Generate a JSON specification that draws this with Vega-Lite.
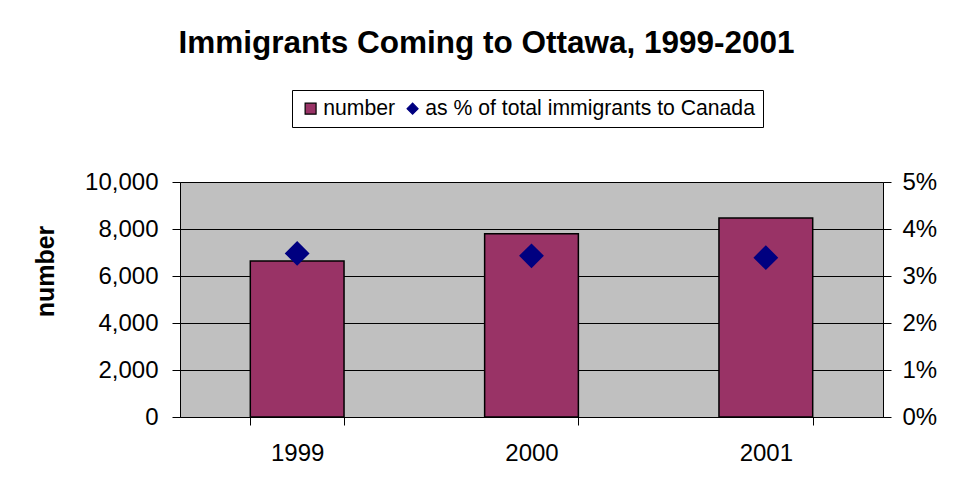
{
  "$schema": "https://vega.github.io/schema/vega-lite/v6.json",
  "autosize": {"type": "none"},
  "width": 703,
  "height": 235,
  "padding": {"left": 180, "top": 182, "right": 72, "bottom": 83},
  "background": "white",
  "title": {
    "text": "Immigrants Coming to Ottawa, 1999-2001",
    "font": "Liberation Sans",
    "fontSize": 31.5,
    "fontWeight": "bold",
    "color": "black",
    "anchor": "middle",
    "frame": "group",
    "dx": -45,
    "baseline": "alphabetic",
    "offset": 5
  },
  "data": {
    "values": [
      {"year": "1999", "series": "number", "value": 6640},
      {"year": "2000", "series": "number", "value": 7800},
      {"year": "2001", "series": "number", "value": 8470},
      {"year": "1999", "series": "as % of total immigrants to Canada", "value": 0.0348},
      {"year": "2000", "series": "as % of total immigrants to Canada", "value": 0.0343},
      {"year": "2001", "series": "as % of total immigrants to Canada", "value": 0.0339}
    ]
  },
  "encoding": {
    "x": {
      "field": "year",
      "type": "nominal",
      "scale": {"paddingInner": 0.6, "paddingOuter": 0.3},
      "axis": {
        "title": null,
        "labelAngle": 0,
        "tickBand": "extent",
        "tickSize": 8,
        "labelPadding": 16,
        "grid": false
      }
    }
  },
  "layer": [
    {
      "transform": [{"filter": "datum.series === 'number'"}],
      "mark": {"type": "bar", "strokeWidth": 1.5},
      "encoding": {
        "y": {
          "field": "value",
          "type": "quantitative",
          "scale": {"domain": [0, 10000], "nice": false},
          "axis": {
            "title": "number",
            "titleFont": "Liberation Sans",
            "titleFontSize": 25,
            "titleFontWeight": "bold",
            "titlePadding": 26,
            "titleColor": "black",
            "titleY": 89,
            "values": [0, 2000, 4000, 6000, 8000, 10000],
            "format": ",.0f",
            "grid": true,
            "labelPadding": 14
          }
        },
        "color": {
          "field": "series",
          "type": "nominal",
          "scale": {"domain": ["number", "as % of total immigrants to Canada"], "range": ["#993366", "#000080"]},
          "legend": {"title": null, "orient": "none", "direction": "horizontal", "legendX": 112, "legendY": -92}
        },
        "stroke": {
          "field": "series",
          "type": "nominal",
          "scale": {"domain": ["number", "as % of total immigrants to Canada"], "range": ["black", "#000080"]},
          "legend": null
        }
      }
    },
    {
      "transform": [{"filter": "datum.series !== 'number'"}],
      "mark": {"type": "point", "filled": true, "size": 484, "opacity": 1},
      "encoding": {
        "y": {
          "field": "value",
          "type": "quantitative",
          "scale": {"domain": [0, 0.05], "nice": false},
          "axis": {
            "orient": "right",
            "title": null,
            "values": [0, 0.01, 0.02, 0.03, 0.04, 0.05],
            "format": ".0%",
            "grid": false,
            "labelPadding": 11
          }
        },
        "color": {
          "field": "series",
          "type": "nominal",
          "scale": {"domain": ["number", "as % of total immigrants to Canada"], "range": ["#993366", "#000080"]},
          "legend": {"title": null, "orient": "none", "direction": "horizontal", "legendX": 112, "legendY": -92}
        },
        "shape": {
          "field": "series",
          "type": "nominal",
          "scale": {"domain": ["number", "as % of total immigrants to Canada"], "range": ["square", "diamond"]},
          "legend": {"title": null, "orient": "none", "direction": "horizontal", "legendX": 112, "legendY": -92}
        },
        "stroke": {
          "field": "series",
          "type": "nominal",
          "scale": {"domain": ["number", "as % of total immigrants to Canada"], "range": ["black", "#000080"]},
          "legend": null
        }
      }
    }
  ],
  "resolve": {"scale": {"y": "independent"}},
  "config": {
    "view": {"fill": "#C0C0C0", "stroke": "#808080", "strokeWidth": 1},
    "axis": {
      "labelFont": "Liberation Sans",
      "labelFontSize": 24,
      "labelColor": "black",
      "domainColor": "black",
      "domainWidth": 1,
      "tickColor": "black",
      "tickSize": 8,
      "tickWidth": 1,
      "gridColor": "black",
      "gridWidth": 1,
      "gridOpacity": 1
    },
    "legend": {
      "padding": 8,
      "strokeColor": "black",
      "fillColor": "white",
      "labelFont": "Liberation Sans",
      "labelFontSize": 21.2,
      "labelColor": "black",
      "labelLimit": 600,
      "labelOffset": 2,
      "columnPadding": 6,
      "symbolSize": 120,
      "symbolStrokeWidth": 1.2,
      "symbolOpacity": 1
    }
  }
}
